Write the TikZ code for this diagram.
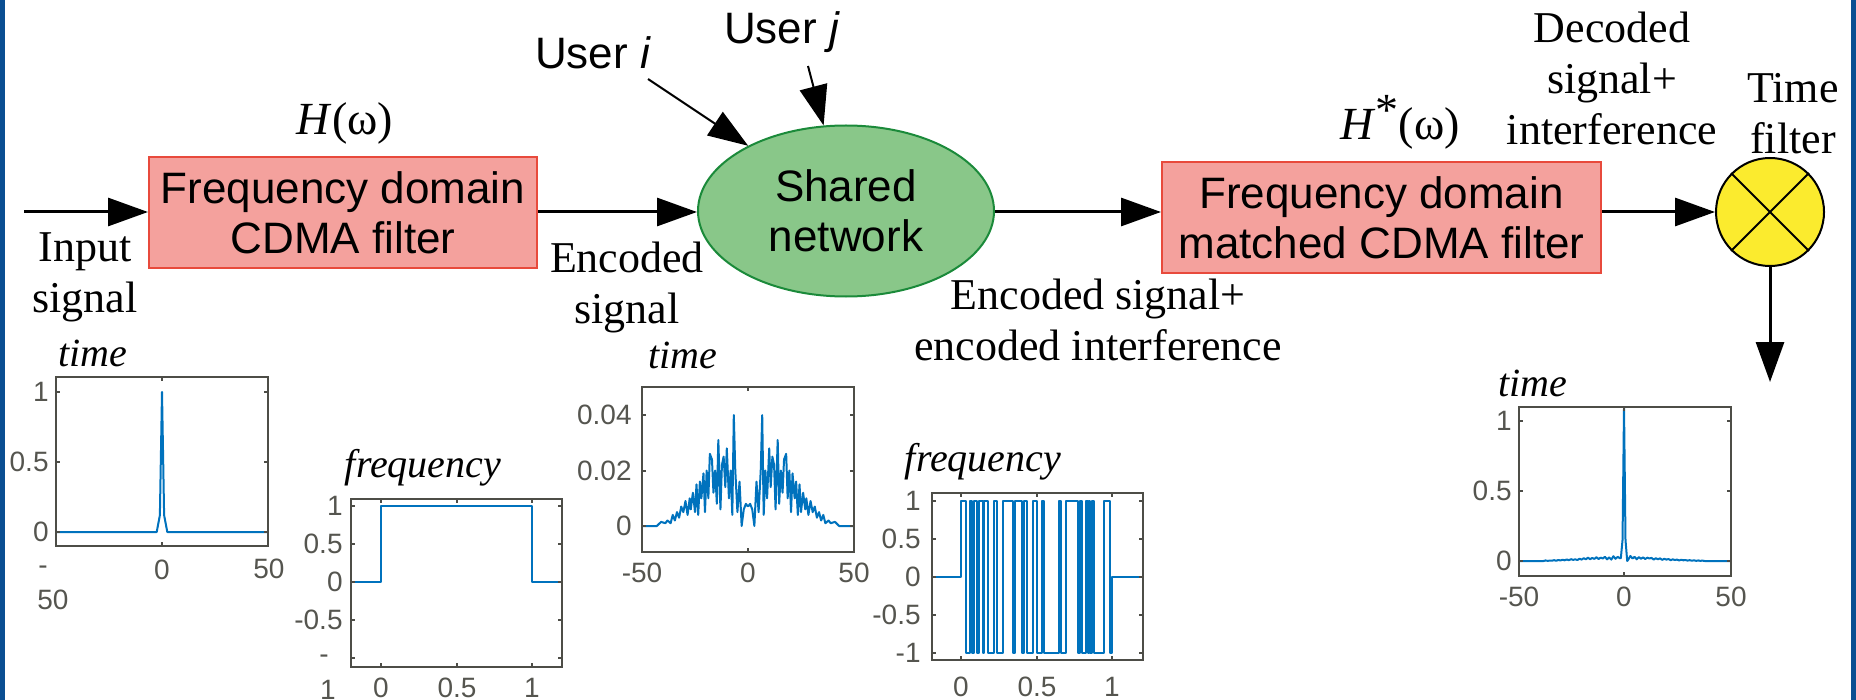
\documentclass[tikz,border=0pt]{standalone}
\usepackage{fontspec}
\setmainfont{Liberation Serif}
\newfontfamily\arial{Liberation Sans}
\usetikzlibrary{arrows.meta,shapes.geometric}

\definecolor{bordblue}{HTML}{0A4E92}
\definecolor{boxred}{HTML}{E84A3C}
\definecolor{boxpink}{HTML}{F4A19D}
\definecolor{netgreen}{HTML}{1B8A3A}
\definecolor{netfill}{HTML}{89C789}
\definecolor{xyellow}{HTML}{FBEB2E}
\definecolor{axgray}{HTML}{4D4D47}
\definecolor{labgray}{HTML}{55554F}
\definecolor{sigblue}{HTML}{0072BD}

% one half of the encoded time trace (mirrored for the other half)
\newcommand\halftrace{%
  \draw[sig] plot coordinates {(0,0.007) (1,0.008) (2,0.006) (3,0.0) (4,0.016)
    (5,0.005) (6,0.02) (6.7,0.04) (7.4,0.004) (8.2,0.02) (9,0.01) (10,0.028)
    (10.7,0.014) (11.5,0.025) (12.3,0.022) (13,0.006) (14,0.031) (14.7,0.008)
    (15.5,0.02) (16.3,0.012) (17,0.024) (18,0.026) (18.7,0.01) (19.5,0.02)
    (20.3,0.005) (21,0.019) (22,0.01) (22.7,0.016) (23.5,0.004) (24.3,0.015)
    (25,0.005) (26,0.012) (27,0.006) (27.5,0.01) (28.5,0.004) (29.5,0.009)
    (30.5,0.005) (31.5,0.007) (32.5,0.003) (33.5,0.005) (34.5,0.002) (35.5,0.004)
    (36.5,0.001) (38,0.002) (39,0.001) (41,0.0015) (43,0) (50,0)};}

\begin{document}
\begin{tikzpicture}[x=0.5pt,y=-0.5pt,
  arr/.style={-{Triangle[length=20pt,width=14pt]}, line width=1.5pt},
  uarr/.style={-{Triangle[length=20pt,width=14pt]}, line width=1pt},
  fbox/.style={rectangle, draw=boxred, fill=boxpink, line width=1pt, align=center,
    font=\arial\fontsize{22}{25}\selectfont, inner sep=0pt},
  serif/.style={font=\fontsize{22}{25.5}\selectfont, align=center, inner sep=0pt},
  sans/.style={font=\arial\fontsize{22}{25}\selectfont, inner sep=0pt},
  frame/.style={draw=axgray, line width=1.3pt},
  axtick/.style={draw=axgray, line width=0.8pt},
  sig/.style={draw=sigblue, line width=1pt, line join=round},
  ticklab/.style={text=labgray, font=\arial\fontsize{14}{16}\selectfont, inner sep=0pt},
  title/.style={font=\itshape\fontsize{20}{22}\selectfont, inner sep=0pt}]

\useasboundingbox (0,0) rectangle (1856,700);

% side rules of the frame
\fill[bordblue] (0,0) rectangle (5,700);
\fill[bordblue] (1851,0) rectangle (1856,700);

% ---------- signal chain ----------
\node[fbox, minimum width=194pt, minimum height=55.5pt] (enc) at (343,212.5)
  {Frequency domain\\CDMA filter};
\node[ellipse, draw=netgreen, fill=netfill, line width=1pt, minimum width=148pt,
  minimum height=85.5pt, inner sep=0pt, align=center,
  font=\arial\fontsize{22}{25}\selectfont] (net) at (846,211) {Shared\\network};
\node[fbox, minimum width=219.5pt, minimum height=55.5pt] (dec) at (1381.5,217.5)
  {Frequency domain\\matched CDMA filter};
\node[circle, draw, fill=xyellow, line width=1pt, minimum size=54pt, inner sep=0pt]
  (tf) at (1770,212) {};
\draw[line width=1pt] (tf.45) -- (tf.225) (tf.135) -- (tf.315);

\node[serif, font=\fontsize{23}{26}\selectfont] (hw) at (345,123) {\textit{H}(ω)};
\node[serif, font=\fontsize{23}{26}\selectfont] (hsw) at (1400,122)
  {\textit{H}\raisebox{0.3em}{*}(ω)};
\node[serif] (insig) at (85,277.5) {Input\\signal};
\node[serif] (encsig) at (627,287.5) {Encoded\\signal};
\node[serif] (encint) at (1098,320) {Encoded signal+\\encoded interference};
\node[serif] (decint) at (1612,78.5) {Decoded\\signal+\\interference};
\node[serif] (tflab) at (1793,114) {Time\\filter};
\node[sans] (ui) at (593,53) {User \textit{i}};
\node[sans] (uj) at (782,32) {User \textit{j}};

\coordinate (src) at (24,212);
\coordinate (uis) at (648,79);
\coordinate (ujs) at (808,66);
\coordinate (out) at (1770,382);

\draw[arr] (src) -- (src -| enc.west);
\draw[arr] (enc.east |- src) -- (src -| net.west);
\draw[arr] (src -| net.east) -- (src -| dec.west);
\draw[arr] (src -| dec.east) -- (tf.west);
\draw[arr] (tf.south) -- (out);
\draw[uarr] (uis) -- (net);
\draw[uarr] (ujs) -- (net);

% ---------- plot 1: input, time ----------
\begin{scope}[shift={(162,532)}, xscale=2.12, yscale=-140]
  \draw[sig] plot coordinates {(-50,0) (-2.5,0) (-1,0.12) (0,1) (1,0.12) (2.5,0) (50,0)};
\end{scope}
\draw[frame] (56,377) rectangle (268,546);
\draw[axtick] (162,546) -- ++(0,-4) (162,377) -- ++(0,4);
\foreach \t in {392,462,532} {\draw[axtick] (56,\t) -- ++(4,0) (268,\t) -- ++(-4,0);}
\foreach \v/\t [count=\i] in {1/392,0.5/462,0/532}
  {\node[ticklab, anchor=east] (p1y\i) at (49,\t) {\v};}
\node[ticklab] (p1xa) at (43,570) {-};
\node[ticklab] (p1xb) at (53,600) {50};
\node[ticklab] (p1xc) at (162,570) {0};
\node[ticklab] (p1xd) at (269,569) {50};
\node[title] (p1t) at (93,353) {time};

% ---------- plot 2: encoder, frequency ----------
\begin{scope}[shift={(381,582)}, xscale=151, yscale=-76]
  \draw[sig] plot coordinates {(-0.2,0) (0,0) (0,1) (1,1) (1,0) (1.2,0)};
\end{scope}
\draw[frame] (351,499) rectangle (562,667);
\foreach \t in {381,457,532} {\draw[axtick] (\t,667) -- ++(0,-4) (\t,499) -- ++(0,4);}
\foreach \t in {506,544,582,620,658} {\draw[axtick] (351,\t) -- ++(4,0) (562,\t) -- ++(-4,0);}
\foreach \v/\t [count=\i] in {1/506,0.5/544,0/582,-0.5/620}
  {\node[ticklab, anchor=east] (p2y\i) at (343,\t) {\v};}
\node[ticklab] (p2ya) at (324,659) {-};
\node[ticklab] (p2yb) at (328,690) {1};
\foreach \v/\t [count=\i] in {0/381,0.5/457,1/532}
  {\node[ticklab] (p2x\i) at (\t,688) {\v};}
\node[title] (p2t) at (423,468) {frequency};

% ---------- plot 3: encoded, time ----------
\begin{scope}[shift={(748,526)}, xscale=2.12, yscale=-2775]
  \halftrace
\end{scope}
\begin{scope}[shift={(748,526)}, xscale=-2.12, yscale=-2775]
  \halftrace
\end{scope}
\draw[frame] (642,387) rectangle (854,552);
\draw[axtick] (748,552) -- ++(0,-4) (748,387) -- ++(0,4);
\foreach \t in {415,471,526} {\draw[axtick] (642,\t) -- ++(4,0) (854,\t) -- ++(-4,0);}
\foreach \v/\t [count=\i] in {0.04/415,0.02/471,0/526}
  {\node[ticklab, anchor=east] (p3y\i) at (632,\t) {\v};}
\foreach \v/\t [count=\i] in {-50/642,0/748,50/854}
  {\node[ticklab] (p3x\i) at (\t,573) {\v};}
\node[title] (p3t) at (683,355) {time};

% ---------- plot 4: code, frequency ----------
\begin{scope}[shift={(961,577)}, xscale=151, yscale=-76]
  \draw[sig] (-0.2,0) -- (0,0) |- (0.033,1) |- (0.059,-1) |- (0.075,1) |- (0.088,-1)
    |- (0.108,1) |- (0.119,-1) |- (0.148,1) |- (0.152,-1) |- (0.181,1) |- (0.220,-1)
    |- (0.236,1) |- (0.280,-1) |- (0.346,1) |- (0.359,-1) |- (0.405,1) |- (0.419,-1)
    |- (0.434,1) |- (0.478,-1) |- (0.5,1) |- (0.537,-1) |- (0.551,1) |- (0.648,-1)
    |- (0.665,1) |- (0.698,-1) |- (0.775,1) |- (0.786,-1) |- (0.802,1) |- (0.830,-1)
    |- (0.841,1) |- (0.848,-1) |- (0.857,1) |- (0.868,-1) |- (0.879,1) |- (0.947,-1)
    |- (0.985,1) |- (1,-1) |- (1.2,0);
\end{scope}
\draw[frame] (932,493) rectangle (1143,660);
\foreach \t in {961,1037,1112} {\draw[axtick] (\t,660) -- ++(0,-4) (\t,493) -- ++(0,4);}
\foreach \t in {501,539,577,615,653} {\draw[axtick] (932,\t) -- ++(4,0) (1143,\t) -- ++(-4,0);}
\foreach \v/\t [count=\i] in {1/501,0.5/539,0/577,-0.5/615,-1/653}
  {\node[ticklab, anchor=east] (p4y\i) at (921,\t) {\v};}
\foreach \v/\t [count=\i] in {0/961,0.5/1037,1/1112}
  {\node[ticklab] (p4x\i) at (\t,687) {\v};}
\node[title] (p4t) at (983,462) {frequency};

% ---------- plot 5: decoded, time ----------
\begin{scope}[shift={(1624,561)}, xscale=2.12, yscale=-140]
  \draw[sig] plot coordinates {(-50,0) (-38,0) (-37,0.004) (-36,0.001) (-35,0.003)
    (-34,0.002) (-33,0.006) (-32,0.002) (-31,0.007) (-30,0.004) (-29,0.009) (-28,0.005)
    (-27,0.011) (-26,0.006) (-25,0.013) (-24,0.008) (-23,0.012) (-22,0.007) (-21,0.016)
    (-20,0.01) (-19,0.02) (-18,0.012) (-17,0.024) (-16,0.013) (-15,0.022) (-14,0.015)
    (-13,0.027) (-12,0.014) (-11,0.024) (-10,0.018) (-9,0.03) (-8,0.012) (-7,0.026)
    (-6,0.01) (-5,0.034) (-4,0.016) (-3,0.03) (-2,0.02) (-1.5,0.02) (-0.7,0.15)
    (0,1.1) (0.7,0.15) (1.5,0.0) (2,0.01) (3,0.036) (4,0.018) (5,0.03) (6,0.012)
    (7,0.028) (8,0.016) (9,0.026) (10,0.014) (11,0.024) (12,0.018) (13,0.022) (14,0.01)
    (15,0.02) (16,0.012) (17,0.019) (18,0.008) (19,0.016) (20,0.01) (21,0.014)
    (22,0.006) (23,0.012) (24,0.007) (25,0.01) (26,0.004) (27,0.009) (28,0.005)
    (29,0.007) (30,0.003) (31,0.006) (32,0.002) (33,0.005) (34,0.001) (35,0.004)
    (36,0.001) (37,0.003) (38,0) (50,0)};
\end{scope}
\draw[frame] (1519,407) rectangle (1731,576);
\draw[axtick] (1624,576) -- ++(0,-4) (1624,407) -- ++(0,4);
\foreach \t in {421,491,561} {\draw[axtick] (1519,\t) -- ++(4,0) (1731,\t) -- ++(-4,0);}
\foreach \v/\t [count=\i] in {1/421,0.5/491,0/561}
  {\node[ticklab, anchor=east] (p5y\i) at (1512,\t) {\v};}
\foreach \v/\t [count=\i] in {-50/1519,0/1624,50/1731}
  {\node[ticklab] (p5x\i) at (\t,597) {\v};}
\node[title] (p5t) at (1533,383) {time};

\end{tikzpicture}
\end{document}
